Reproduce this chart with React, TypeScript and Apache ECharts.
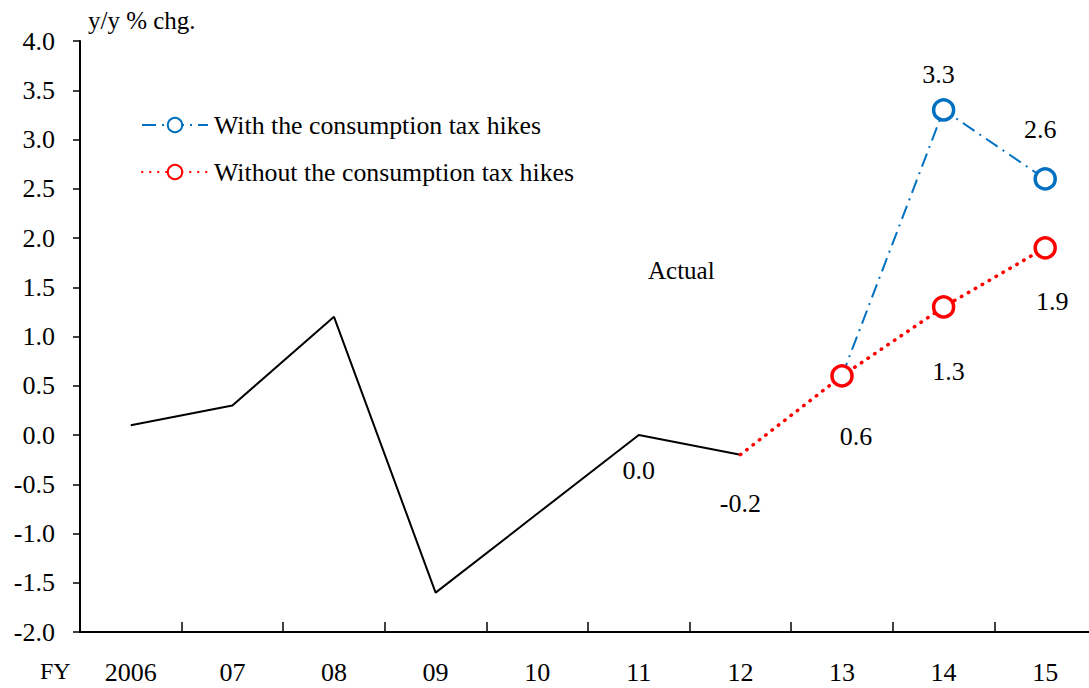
import React, { useEffect, useRef } from "react";
import * as echarts from "echarts";

const categories = ["2006", "07", "08", "09", "10", "11", "12", "13", "14", "15"];
const actual = [0.1, 0.3, 1.2, -1.6, -0.8, 0.0, -0.2, null, null, null];
const withHikes = [null, null, null, null, null, null, null, 0.6, 3.3, 2.6];
const withoutHikes = [null, null, null, null, null, null, -0.2, 0.6, 1.3, 1.9];
const yTicks = { min: -2, max: 4, interval: 0.5 };

const FONT = "'Liberation Serif', 'Times New Roman', serif";

export default function App() {
  const ref = useRef<HTMLDivElement>(null);
  useEffect(() => {
    if (!ref.current) return;
    const chart = echarts.init(ref.current, null, { renderer: "svg" });
    const lbl = (pos: string, dist: number, dx: number) => ({
      show: true,
      position: pos,
      distance: dist,
      offset: [dx, 0],
      fontSize: 26,
      fontFamily: FONT,
      color: "#000",
      opacity: 1,
      formatter: (p: any) => Number(p.value).toFixed(1),
    });
    const actualData = actual.map((v, i) => {
      if (i === 5) return { value: v, label: lbl("bottom", 22, 10) };
      if (i === 6) return { value: v, label: lbl("bottom", 35, 3) };
      return v;
    });
    const withData = withHikes.map((v, i) => {
      if (i === 7) return { value: v, symbol: "none" };
      if (i === 8) return { value: v, label: lbl("top", 11, -5) };
      if (i === 9) return { value: v, label: lbl("top", 25, -5) };
      return v;
    });
    const withoutData = withoutHikes.map((v, i) => {
      if (i === 6) return { value: v, symbol: "none" };
      if (i === 7) return { value: v, label: lbl("bottom", 36, 14) };
      if (i === 8) return { value: v, label: lbl("bottom", 40, 5) };
      if (i === 9) return { value: v, label: lbl("bottom", 29, 7) };
      return v;
    });
    chart.setOption({
      animation: false,
      backgroundColor: "#fff",
      textStyle: { fontFamily: FONT },
      grid: {
        left: 80,
        width: 1016,
        top: 41,
        bottom: 56,
        containLabel: false,
        outerBoundsMode: "none",
      },
      legend: {
        orient: "vertical",
        left: 136,
        top: 107,
        itemWidth: 66,
        itemHeight: 18,
        itemGap: 21,
        data: ["With the consumption tax hikes", "Without the consumption tax hikes"],
        textStyle: { fontSize: 25.8, fontFamily: FONT, color: "#000", padding: [0, 0, 0, 1] },
      },
      xAxis: {
        type: "category",
        data: categories,
        boundaryGap: true,
        axisLine: { onZero: false, lineStyle: { color: "#000", width: 2 } },
        axisTick: { show: true, inside: true, length: 10, lineStyle: { color: "#000", width: 1.5 } },
        axisLabel: { fontSize: 26, fontFamily: FONT, color: "#000", margin: 27 },
        splitLine: { show: false },
      },
      yAxis: {
        type: "value",
        min: yTicks.min,
        max: yTicks.max,
        interval: yTicks.interval,
        name: "y/y % chg.",
        nameLocation: "end",
        nameGap: 8,
        nameTextStyle: { fontSize: 25, fontFamily: FONT, color: "#000", align: "left", padding: [0, 0, 0, 8] },
        axisLine: { show: true, lineStyle: { color: "#000", width: 2 } },
        axisTick: { show: true, length: 7, lineStyle: { color: "#000", width: 1.5 } },
        axisLabel: {
          fontSize: 26,
          fontFamily: FONT,
          color: "#000",
          margin: 25,
          formatter: (v: number) => v.toFixed(1),
        },
        splitLine: { show: false },
      },
      graphic: [
        {
          type: "text",
          left: 648,
          top: 258,
          style: { text: "Actual", fontSize: 25, fontFamily: FONT, fill: "#000" },
        },
        {
          type: "text",
          left: 40,
          top: 659,
          style: { text: "FY", fontSize: 24, fontFamily: FONT, fill: "#000" },
        },
      ],
      series: [
        {
          name: "Actual",
          type: "line",
          data: actualData,
          symbol: "circle",
          symbolSize: 1,
          showSymbol: true,
          showAllSymbol: true,
          lineStyle: { color: "#000", width: 2 },
          itemStyle: { color: "rgba(0,0,0,0)", borderWidth: 0 },
          labelLayout: { hideOverlap: false },
          z: 2,
        },
        {
          name: "With the consumption tax hikes",
          type: "line",
          data: withData,
          symbol: "circle",
          symbolSize: 20,
          connectNulls: false,
          itemStyle: { color: "#fff", borderColor: "#0070C0", borderWidth: 3.5 },
          lineStyle: { color: "#0070C0", width: 2, type: [14, 6, 2, 6] },
          z: 3,
        },
        {
          name: "Without the consumption tax hikes",
          type: "line",
          data: withoutData,
          symbol: "circle",
          symbolSize: 20,
          itemStyle: { color: "#fff", borderColor: "#FF0000", borderWidth: 3.5 },
          lineStyle: { color: "#FF0000", width: 3.5, type: [0.5, 7.5], cap: "round" },
          z: 4,
        },
      ],
    });
    return () => chart.dispose();
  }, []);
  return (
    <div
      ref={ref}
      style={{ position: "fixed", left: 0, top: 0, width: 1089, height: 688, background: "#fff" }}
    />
  );
}
